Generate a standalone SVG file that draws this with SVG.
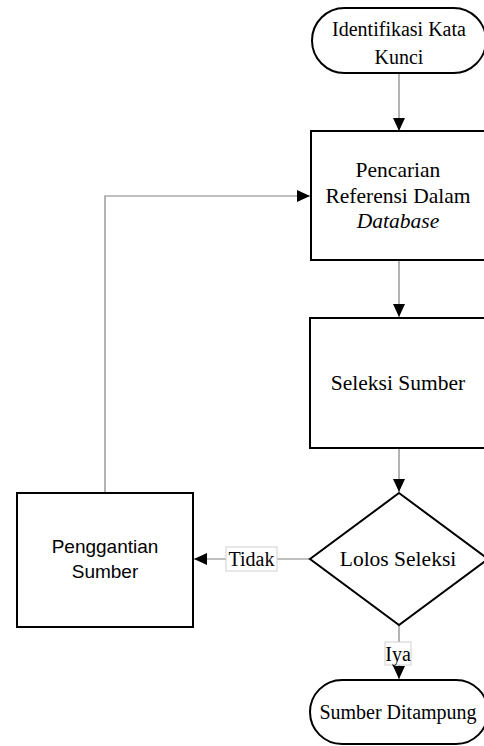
<svg xmlns="http://www.w3.org/2000/svg" width="484" height="746" viewBox="0 0 484 746">
<style>
.shape{fill:#fff;stroke:#000;stroke-width:2}
.conn{fill:none;stroke:#808080;stroke-width:1.2}
.t{font-family:"Liberation Serif","Times New Roman",serif;font-size:20px;fill:#000;text-anchor:middle}
.big{font-size:21.5px}
.s{font-family:"Liberation Sans",Arial,sans-serif;font-size:19px;fill:#000;text-anchor:middle}
.lbl{fill:#fff;stroke:#d0d0d0;stroke-width:1}
</style>
<defs>
<marker id="ah" markerWidth="13" markerHeight="12" refX="13" refY="6" orient="auto" markerUnits="userSpaceOnUse">
<path d="M0,0 L13,6 L0,12 Z" fill="#000"/>
</marker>
</defs>
<g id="connectors">
<line class="conn" x1="399" y1="73" x2="399" y2="131" marker-end="url(#ah)"/>
<line class="conn" x1="399" y1="260" x2="399" y2="317" marker-end="url(#ah)"/>
<line class="conn" x1="399" y1="448" x2="399" y2="492" marker-end="url(#ah)"/>
<line class="conn" x1="310" y1="559" x2="194" y2="559" marker-end="url(#ah)"/>
<line class="conn" x1="399" y1="624" x2="399" y2="679" marker-end="url(#ah)"/>
<polyline class="conn" points="105,493 105,196 310,196" marker-end="url(#ah)"/>
<g id="label-tidak">
<rect class="lbl" x="226" y="547" width="51" height="24"/>
<text class="t" x="251.5" y="566" font-size="21">Tidak</text>
</g>
<g id="label-iya">
<rect class="lbl" x="385" y="642" width="26" height="23"/>
<text class="t" x="398" y="661">Iya</text>
</g>
</g>
<g id="identifikasi">
<rect class="shape" x="312" y="8" width="174" height="65" rx="32.5" ry="32.5"/>
<text class="t" x="399" y="36">Identifikasi Kata</text>
<text class="t" x="399" y="64">Kunci</text>
</g>
<g id="pencarian">
<rect class="shape" x="311" y="131" width="176" height="129"/>
<text class="t big" x="398" y="177">Pencarian</text>
<text class="t big" x="398" y="203">Referensi Dalam</text>
<text class="t big" x="398" y="228" font-style="italic">Database</text>
</g>
<g id="seleksi">
<rect class="shape" x="310" y="318" width="177" height="130"/>
<text class="t big" x="398" y="390">Seleksi Sumber</text>
</g>
<g id="lolos">
<polygon class="shape" points="399,493 488,559 399,625 310,559"/>
<text class="t big" x="398" y="566">Lolos Seleksi</text>
</g>
<g id="penggantian">
<rect class="shape" x="17" y="493" width="176" height="134"/>
<text class="s" x="105" y="553">Penggantian</text>
<text class="s" x="105" y="578">Sumber</text>
</g>
<g id="ditampung">
<rect class="shape" x="310" y="680" width="178" height="64" rx="32" ry="32"/>
<text class="t" x="398" y="719" font-size="19.3">Sumber Ditampung</text>
</g>
</svg>
